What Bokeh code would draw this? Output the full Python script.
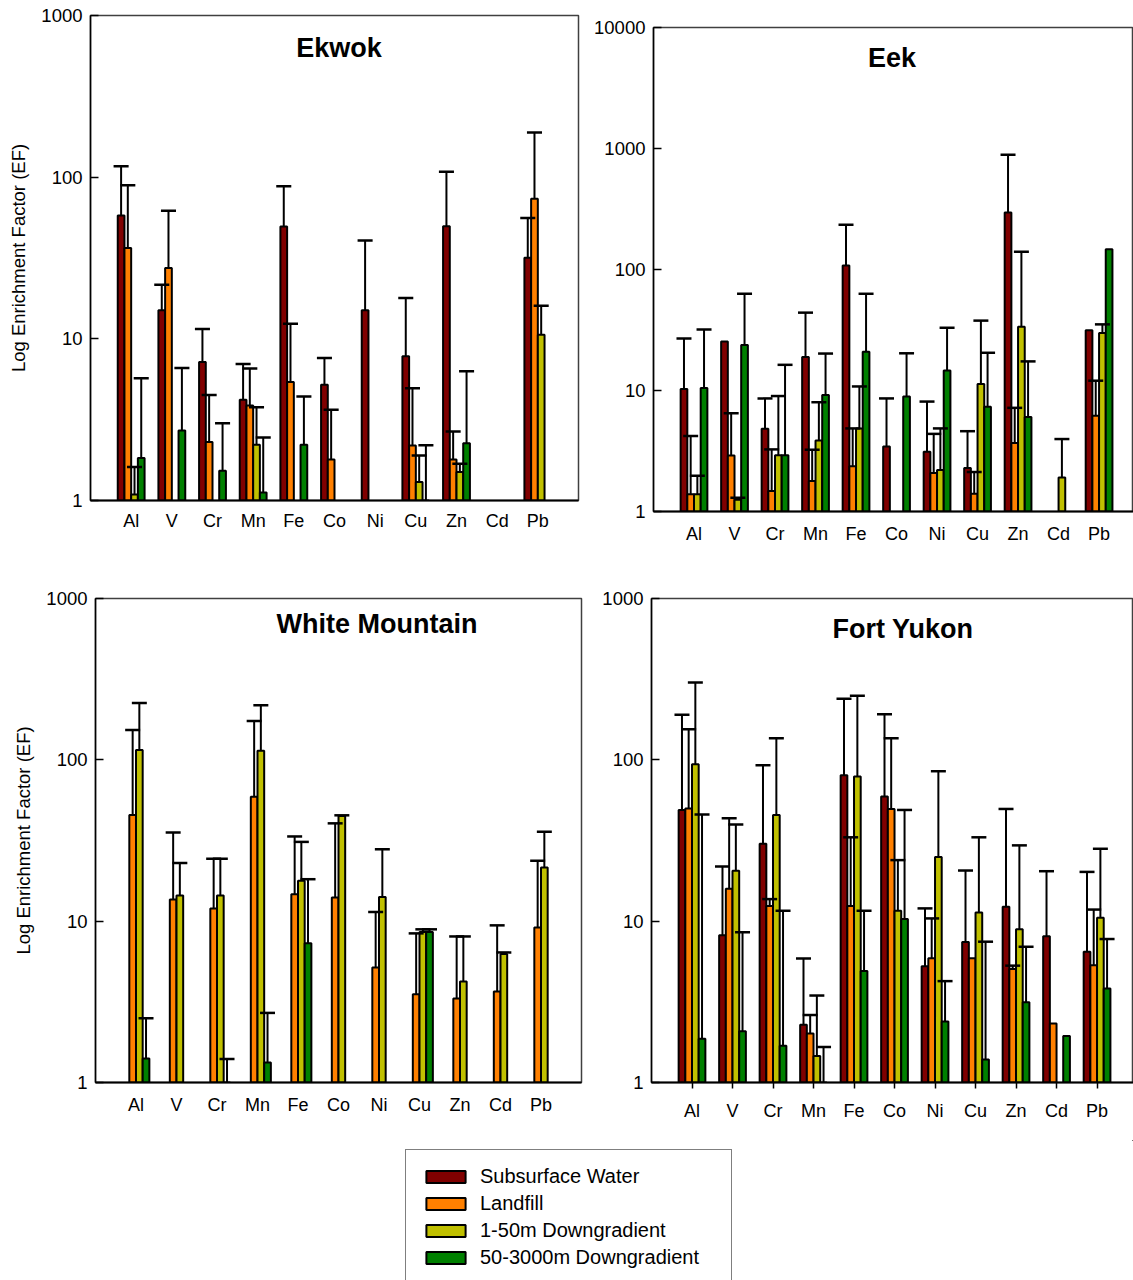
import numpy as np
from bokeh.plotting import figure
from bokeh.layouts import column, row
from bokeh.models import (ColumnDataSource, FixedTicker, PrintfTickFormatter, Label,
                          Legend, LegendItem, Range1d, Spacer)
from bokeh.core.properties import value
from bokeh.embed import file_html
from bokeh.resources import INLINE

N = None
elements = ["Al", "V", "Cr", "Mn", "Fe", "Co", "Ni", "Cu", "Zn", "Cd", "Pb"]
series = ["Subsurface Water", "Landfill", "1-50m Downgradient", "50-3000m Downgradient"]
colors = ["#800000", "#FF8000", "#C0C000", "#008000"]

# ---- Ekwok ----
ekwok_sub = [58, 15, 7.2, 4.2, 49.5, 5.2, 15, 7.8, 49.7, N, 31.7]
ekwok_sub_err = [117, 21.6, 11.5, 7.0, 88, 7.6, 40.6, 17.9, 108, N, 56]
ekwok_land = [36.5, 27.4, 2.3, 3.87, 5.4, 1.79, N, 2.19, 1.79, N, 73.5]
ekwok_land_err = [89, 62, 4.5, 6.55, 12.4, 3.64, N, 4.95, 2.67, N, 189]
ekwok_near = [1.09, N, N, 2.21, N, N, N, 1.30, 1.5, N, 10.6]
ekwok_near_err = [1.61, N, N, 3.78, N, N, N, 1.9, 1.69, N, 16]
ekwok_far = [1.83, 2.71, 1.53, 1.12, 2.21, N, N, 1.0, 2.26, N, N]
ekwok_far_err = [5.7, 6.6, 3.0, 2.45, 4.4, N, N, 2.2, 6.3, N, N]

# ---- Eek ----
eek_sub = [10.3, 25.4, 4.83, 18.9, 108, 3.44, 3.12, 2.29, 296, N, 31.5]
eek_sub_err = [26.9, N, 8.6, 44, 234, 8.6, 8.1, 4.61, 887, N, N]
eek_land = [1.39, 2.9, 1.48, 1.79, 2.37, N, 2.08, 1.4, 3.69, N, 6.19]
eek_land_err = [4.2, 6.5, 3.26, 3.24, 4.86, N, 4.38, 2.12, 7.19, N, 12.05]
eek_near = [1.39, 1.25, 2.92, 3.87, 4.86, N, 2.2, 11.3, 33.6, 1.91, 29.9]
eek_near_err = [1.97, 1.3, 9.0, 8.0, 10.8, N, 4.86, 37.8, 140, 3.97, 35.2]
eek_far = [10.5, 23.8, 2.92, 9.2, 20.9, 8.9, 14.6, 7.33, 6.03, N, 147]
eek_far_err = [32, 63, 16.3, 20.2, 63, 20.3, 33, 20.5, 17.4, N, N]

# ---- White Mountain ----
wm_sub = [N] * 11
wm_sub_err = [N] * 11
wm_land = [45.5, 13.6, 12, 59, 14.7, 14, 5.17, 3.52, 3.32, 3.66, 9.15]
wm_land_err = [153, 35.5, 24.4, 174, 33.5, 40.4, 11.4, 8.4, 8.04, 9.42, 23.7]
wm_near = [115, 14.4, 14.4, 114, 17.8, 44.9, 14.1, 8.56, 4.22, 6.26, 21.5]
wm_near_err = [225, 22.9, 24.4, 218, 31, 45.3, 27.9, 8.9, 8.04, 6.4, 35.8]
wm_far = [1.41, N, 1.0, 1.33, 7.3, N, N, 8.56, N, N, N]
wm_far_err = [2.5, N, 1.4, 2.7, 18.2, N, N, 8.9, N, N, N]

# ---- Fort Yukon ----
fy_sub = [48.9, 8.17, 30.2, 2.28, 80.2, 59.2, 5.25, 7.42, 12.3, 8.05, 6.46]
fy_sub_err = [190, 21.8, 92.6, 5.87, 239, 192, 12, 20.6, 49.6, 20.4, 20.2]
fy_land = [50, 15.9, 12.4, 2.01, 12.4, 49.6, 5.89, 5.89, 5.05, 2.32, 5.33]
fy_land_err = [155, 43.5, 13.7, 2.62, 33.1, 136, 10.4, N, 5.3, N, 11.8]
fy_near = [94, 20.5, 45.5, 1.46, 78.7, 11.6, 25, 11.3, 8.91, N, 10.5]
fy_near_err = [301, 39.7, 136, 3.46, 250, 23.9, 85, 33.1, 29.5, N, 28.1]
fy_far = [1.87, 2.08, 1.69, 1.0, 4.91, 10.3, 2.39, 1.39, 3.14, 1.94, 3.82]
fy_far_err = [45.9, 8.53, 11.6, 1.66, 11.6, 48.9, 4.25, 7.46, 6.94, N, 7.75]

FONT = "Liberation Sans"
BAR_W = 0.165
OFFSETS = [-1.5 * BAR_W, -0.5 * BAR_W, 0.5 * BAR_W, 1.5 * BAR_W]
CAP_HALF = 0.185


def make_panel(title, vals, errs, width, height, borders, xmax, ymax, title_pos,
               ylabel=None, xticks_out=0, xstandoff=10):
    left, right, top, bottom = borders
    p = figure(width=width, height=height, x_range=Range1d(-1, xmax),
               y_range=Range1d(1, ymax), y_axis_type="log",
               output_backend="svg", toolbar_location=None,
               min_border_left=left, min_border_right=right,
               min_border_top=top, min_border_bottom=bottom)
    p.grid.visible = False
    p.outline_line_color = "#404040"
    p.outline_line_width = 1.5
    p.background_fill_color = "white"
    p.border_fill_color = "white"

    idx = np.arange(len(elements))
    seg_x0, seg_y0, seg_y1 = [], [], []
    cap_x0, cap_x1, cap_y = [], [], []
    for i in range(4):
        v = np.array(vals[i], dtype=float)
        e = np.array(errs[i], dtype=float)
        x = idx + OFFSETS[i]
        m = ~np.isnan(v)
        src = ColumnDataSource(dict(x=x[m], top=v[m], bottom=np.ones(m.sum())))
        p.vbar(x="x", top="top", bottom="bottom", width=BAR_W, source=src,
               fill_color=colors[i], line_color="black", line_width=2)
        me = m & ~np.isnan(e)
        seg_x0 += list(x[me]); seg_y0 += list(v[me]); seg_y1 += list(e[me])
        cap_x0 += list(x[me] - CAP_HALF); cap_x1 += list(x[me] + CAP_HALF)
        cap_y += list(e[me])
    p.segment(x0=seg_x0, y0=seg_y0, x1=seg_x0, y1=seg_y1, line_color="black", line_width=2)
    p.segment(x0=cap_x0, y0=cap_y, x1=cap_x1, y1=cap_y, line_color="black", line_width=2.5)

    # y axis
    ticks = [10 ** k for k in range(0, int(round(np.log10(ymax))) + 1)]
    p.yaxis.ticker = FixedTicker(ticks=ticks, minor_ticks=[])
    p.yaxis.formatter = PrintfTickFormatter(format="%d")
    p.yaxis.major_tick_in = 8
    p.yaxis.major_tick_out = 0
    p.yaxis.major_tick_line_width = 1.5
    p.yaxis.minor_tick_line_color = None
    p.yaxis.axis_line_color = "black"
    p.yaxis.axis_line_width = 1.5
    p.yaxis.major_label_text_font = FONT
    p.yaxis.major_label_text_font_size = "18.5px"
    p.yaxis.major_label_text_color = "black"
    p.yaxis.major_label_standoff = 8
    if ylabel:
        p.yaxis.axis_label = ylabel
        p.yaxis.axis_label_text_font = FONT
        p.yaxis.axis_label_text_font_size = "18.5px"
        p.yaxis.axis_label_text_font_style = "normal"
        p.yaxis.axis_label_text_color = "black"
        p.yaxis.axis_label_standoff = 9

    # x axis
    p.xaxis.ticker = FixedTicker(ticks=list(idx), minor_ticks=[])
    p.xaxis.major_label_overrides = {int(i): el for i, el in zip(idx, elements)}
    p.xaxis.major_label_text_font = FONT
    p.xaxis.major_label_text_font_size = "18px"
    p.xaxis.major_label_text_color = "black"
    p.xaxis.axis_line_color = "black"
    p.xaxis.axis_line_width = 2
    p.xaxis.minor_tick_line_color = None
    p.xaxis.major_tick_in = 0
    p.xaxis.major_tick_out = xticks_out
    if xticks_out == 0:
        p.xaxis.major_tick_line_color = None
    else:
        p.xaxis.major_tick_line_width = 1.5
    p.xaxis.major_label_standoff = xstandoff

    tx, ty = title_pos
    p.add_layout(Label(x=tx, y=ty, text=title, text_font=FONT, text_font_size="27px",
                       text_font_style="bold", text_align="center",
                       text_baseline="middle", text_color="black"))
    return p


YL = "Log Enrichment Factor (EF)"
p1 = make_panel("Ekwok",
                [ekwok_sub, ekwok_land, ekwok_near, ekwok_far],
                [ekwok_sub_err, ekwok_land_err, ekwok_near_err, ekwok_far_err],
                585, 560, (90, 7, 15, 60), 11, 1000, (5.11, 633), ylabel=YL, xstandoff=10)
p2 = make_panel("Eek",
                [eek_sub, eek_land, eek_near, eek_far],
                [eek_sub_err, eek_land_err, eek_near_err, eek_far_err],
                548, 548, (68, 0, 15, 49), 10.85, 10000, (4.89, 5546), xstandoff=12)
p3 = make_panel("White Mountain",
                [wm_sub, wm_land, wm_near, wm_far],
                [wm_sub_err, wm_land_err, wm_near_err, wm_far_err],
                585, 580, (95, 4, 38, 58), 11, 1000, (5.95, 691), ylabel=YL, xstandoff=12)
p4 = make_panel("Fort Yukon",
                [fy_sub, fy_land, fy_near, fy_far],
                [fy_sub_err, fy_land_err, fy_near_err, fy_far_err],
                548, 580, (66, 0, 38, 58), 10.9, 1000, (5.21, 643), xticks_out=6, xstandoff=12)

# legend panel (proxy glyphs lie outside the visible range; only the legend shows)
pl = figure(width=1133, height=140, x_range=Range1d(0, 1), y_range=Range1d(0, 1),
            x_axis_type=None, y_axis_type=None, output_backend="svg",
            toolbar_location=None, min_border=0)
pl.grid.visible = False
pl.outline_line_color = None
items = []
for s, c in zip(series, colors):
    r = pl.vbar(x=[5], top=[5], bottom=[4], width=0.1, fill_color=c,
                line_color="black", line_width=2)
    items.append(LegendItem(label=value(s), renderers=[r]))
leg = Legend(items=items, location=(405, -5), border_line_color="black",
             border_line_width=1, padding=15, spacing=4, glyph_width=49, glyph_height=15,
             label_height=20, label_width=236, label_standoff=10,
             label_text_font=FONT, label_text_font_size="20px",
             label_text_color="black", margin=0,
             background_fill_color="white", background_fill_alpha=1)
pl.add_layout(leg)

layout = column(row(p1, column(Spacer(width=548, height=12), p2, spacing=0), spacing=0),
                row(p3, p4, spacing=0), pl, spacing=0)
open("out.html", "w").write(file_html(layout, INLINE))
